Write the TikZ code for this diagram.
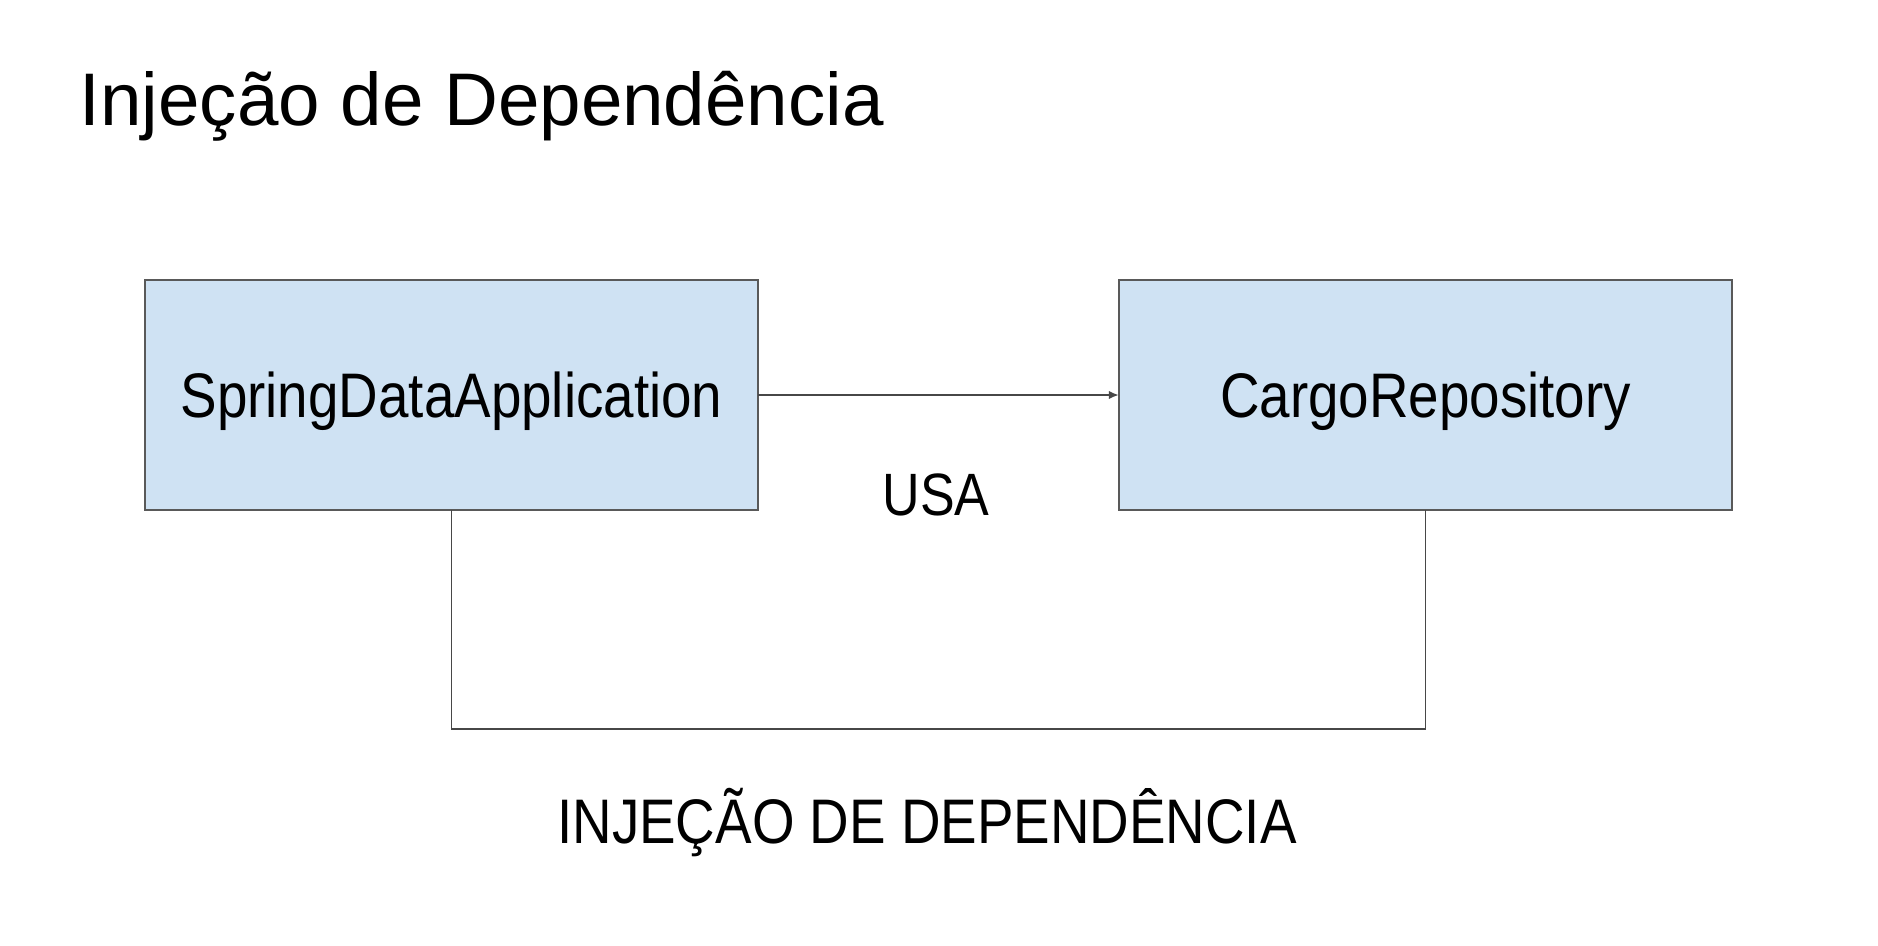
\documentclass[tikz,border=0pt]{standalone}
\usepackage{fontspec}
\setmainfont{Liberation Sans}
\usetikzlibrary{arrows.meta}
\definecolor{boxfill}{HTML}{CFE2F3}
\definecolor{boxline}{HTML}{595959}
\newcommand\condtxt[1]{\scalebox{0.87}[1]{#1}}
\begin{document}
\begin{tikzpicture}[x=0.01cm,y=-0.01cm,
  classbox/.style={draw=boxline,fill=boxfill,line width=0.6pt,minimum width=6.13cm,minimum height=2.30cm,inner sep=0pt,outer sep=0pt,font=\fontsize{17.9}{21}\selectfont,text depth=0pt,text height=12.8pt},
  conn/.style={draw=boxline!80!black,line width=0.55pt},
  lbl/.style={anchor=base,inner sep=0pt}]
\useasboundingbox (0,0) rectangle (1878,945);
\fill[white] (0,0) rectangle (1878,945);
\node[lbl,anchor=base west,font=\fontsize{21.2}{25}\selectfont] (title) at (79,125) {Injeção de Dependência};
\node[classbox] (app) at (451.5,395) {\condtxt{SpringDataApplication}};
\node[classbox] (repo) at (1425.5,395) {\condtxt{CargoRepository}};
\draw[conn,-{Latex[length=2.8pt,width=2.4pt]}] (app.east) -- (repo.west);
\node[lbl,font=\fontsize{17}{20}\selectfont] (usa) at (936,515) {\condtxt{USA}};
\coordinate (bot) at (938,729);
\draw[conn] (app.south) -- (app.south |- bot) -| (repo.south);
\node[lbl,font=\fontsize{17.9}{21}\selectfont] (di) at (927,843) {\condtxt{INJEÇÃO DE DEPENDÊNCIA}};
\end{tikzpicture}
\end{document}
